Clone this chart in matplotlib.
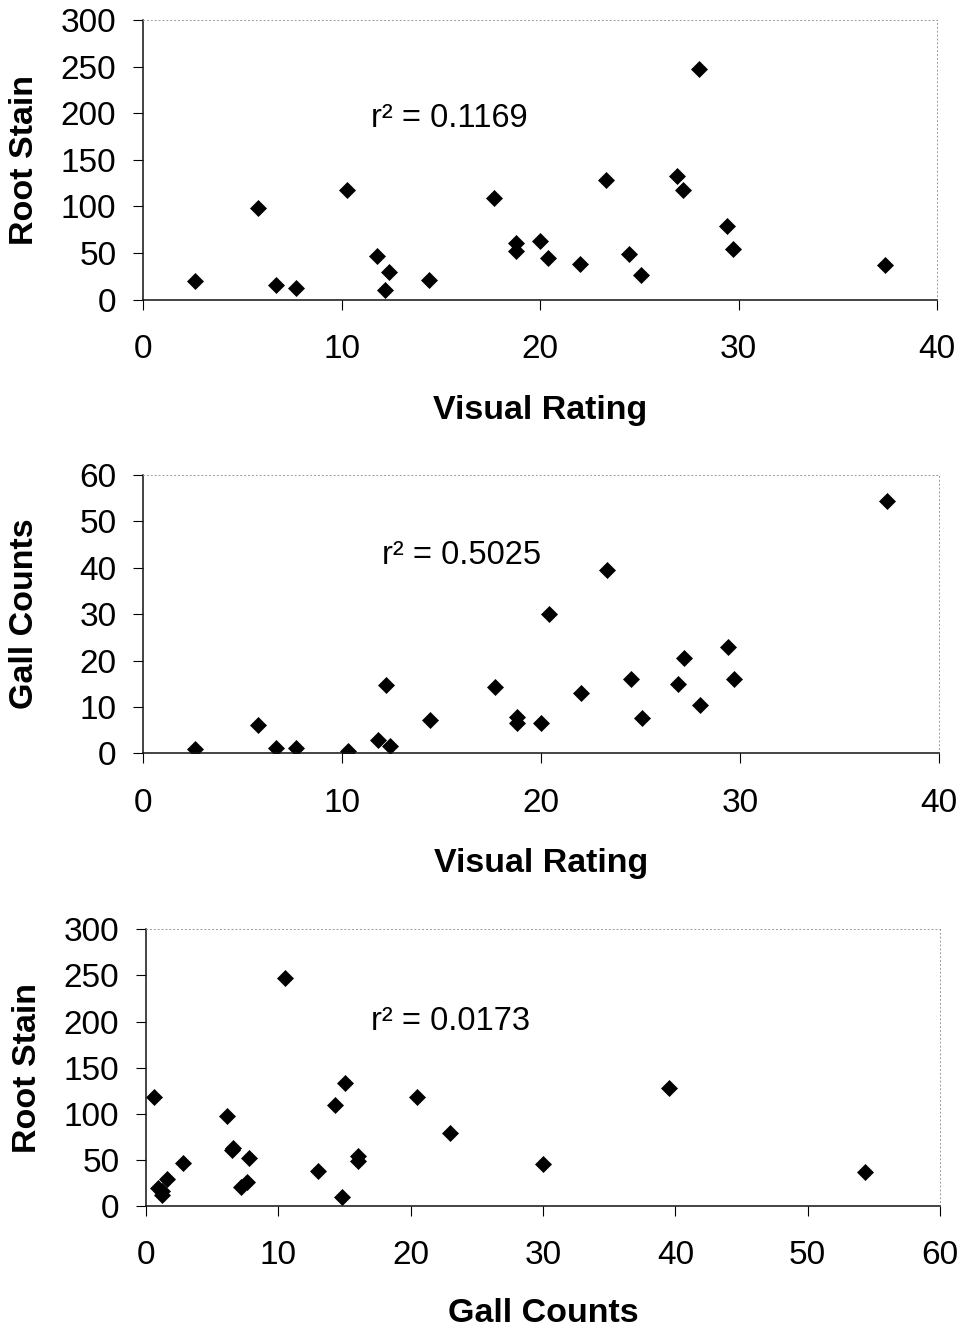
import matplotlib
matplotlib.use("Agg")
import matplotlib.pyplot as plt

plt.rcParams['font.family'] = ['Liberation Sans', 'DejaVu Sans']

# Data (one entry per sample)
visual_rating = [2.6, 5.8, 6.7, 7.7, 10.3, 11.8, 12.2, 12.4, 14.4, 17.7, 18.8, 18.8,
                 20.0, 20.4, 22.0, 23.3, 24.5, 25.1, 26.9, 27.2, 28.0, 29.4, 29.7, 37.4]
root_stain = [20, 98, 16, 12, 118, 47, 10, 29, 21, 109, 61, 52,
              63, 45, 38, 128, 49, 26, 133, 118, 247, 79, 54, 37]
gall_counts = [0.9, 6.1, 1.2, 1.2, 0.6, 2.8, 14.8, 1.6, 7.2, 14.3, 6.5, 7.8,
               6.6, 30.0, 13.0, 39.5, 16.0, 7.6, 15.0, 20.5, 10.5, 23.0, 16.0, 54.3]

r2_labels = ["r\u00b2 = 0.1169", "r\u00b2 = 0.5025", "r\u00b2 = 0.0173"]

W, H = 964, 1329
fig = plt.figure(figsize=(W / 100, H / 100), dpi=100)

def px_axes(left, right, top, bottom):
    return fig.add_axes([left / W, (H - bottom) / H, (right - left) / W, (bottom - top) / H])

TFS = 24     # tick labels
LFS = 24.5   # axis labels
RFS = 23.5   # r^2 annotation

def style(ax, xmax, ymax, xstep, ystep, xlabel, ylabel, xl_y):
    ax.set_xlim(0, xmax)
    ax.set_ylim(0, ymax)
    ax.set_xticks(range(0, xmax + 1, xstep))
    ax.set_yticks(range(0, ymax + 1, ystep))
    ax.tick_params(axis='x', direction='out', length=7.2, width=0.8, pad=17.5, labelsize=TFS)
    ax.tick_params(axis='y', direction='out', length=7.2, width=0.8, pad=12, labelsize=TFS)
    for s in ['left', 'bottom']:
        ax.spines[s].set_color('#111111')
        ax.spines[s].set_linewidth(1.1)
    for s in ['top', 'right']:
        ax.spines[s].set_color('#999999')
        ax.spines[s].set_linewidth(0.7)
        ax.spines[s].set_linestyle((0, (1, 3)))
    ax.set_xlabel(xlabel, fontsize=LFS, fontweight='bold')
    ax.set_ylabel(ylabel, fontsize=LFS, fontweight='bold')
    ax.xaxis.set_label_coords(0.5, xl_y)
    ax.yaxis.set_label_coords(-0.13, 0.5)

mk = dict(marker='D', linestyle='none', color='black', markersize=8.6, markeredgewidth=0.5)

ax1 = px_axes(143, 937, 20, 299.5)
ax1.plot(visual_rating, root_stain, **mk)
style(ax1, 40, 300, 10, 50, "Visual Rating", "Root Stain", -0.343)
ax1.text(11.5, 185, r2_labels[0], fontsize=RFS, ha='left', va='baseline')

ax2 = px_axes(143, 939, 475, 753.3)
ax2.plot(visual_rating, gall_counts, **mk)
style(ax2, 40, 60, 10, 10, "Visual Rating", "Gall Counts", -0.340)
ax2.text(12.0, 40.8, r2_labels[1], fontsize=RFS, ha='left', va='baseline')

ax3 = px_axes(146, 940, 929.3, 1206)
ax3.plot(gall_counts, root_stain, **mk)
style(ax3, 60, 300, 10, 50, "Gall Counts", "Root Stain", -0.332)
ax3.text(17.0, 191, r2_labels[2], fontsize=RFS, ha='left', va='baseline')

fig.savefig("out.png", dpi=100)
